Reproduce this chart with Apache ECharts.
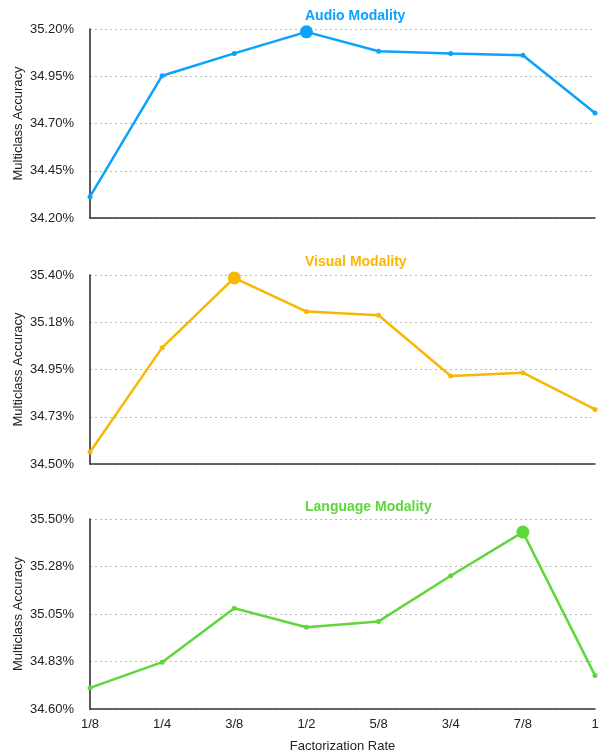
<!DOCTYPE html>
<html>
<head>
<meta charset="utf-8">
<script src="https://cdn.jsdelivr.net/npm/echarts@6/dist/echarts.min.js"></script>
<style>html,body{margin:0;padding:0;background:#fff}#c{width:599px;height:755px}</style>
</head>
<body>
<div id="c"></div>
<script>
const categories = ['1/8', '1/4', '3/8', '1/2', '5/8', '3/4', '7/8', '1'];
const audioValues = [34.313, 34.953, 35.071, 35.185, 35.082, 35.071, 35.061, 34.756];
const visualValues = [34.557, 35.054, 35.386, 35.226, 35.208, 34.919, 34.935, 34.760];
const languageValues = [34.700, 34.822, 35.077, 34.987, 35.015, 35.231, 35.438, 34.759];
const audioAxis = [34.20, 35.20, 0.25];
const visualAxis = [34.50, 35.40, 0.225];
const languageAxis = [34.60, 35.50, 0.225];
const titles = ['Audio Modality', 'Visual Modality', 'Language Modality'];
const colors = ['#0aa2fb', '#f8b700', '#5fd63c'];

const panels = [
  {vals: audioValues, axis: audioAxis, top: 29, height: 189, titleTop: 4},
  {vals: visualValues, axis: visualAxis, top: 275, height: 189, titleTop: 250},
  {vals: languageValues, axis: languageAxis, top: 519, height: 190, titleTop: 495}
];
const font = 'Liberation Sans, Arial, Helvetica, sans-serif';
const fmt = (base) => (v) => (Math.round((base + v) * 100 + 1e-6) / 100).toFixed(2) + '%';

const option = {
  animation: false,
  title: [], grid: [], xAxis: [], yAxis: [], series: []
};
panels.forEach((p, i) => {
  const base = p.axis[0];
  const last = i === panels.length - 1;
  const peak = p.vals.indexOf(Math.max(...p.vals));
  option.title.push({
    text: titles[i], left: 300, top: p.titleTop,
    textStyle: {color: colors[i], fontSize: 14, fontWeight: 'bold', fontFamily: font}
  });
  option.grid.push({left: 90, right: 4, top: p.top, height: p.height, outerBoundsMode: 'none', containLabel: false});
  option.xAxis.push({
    type: 'category', gridIndex: i, data: categories, boundaryGap: false,
    axisLine: {show: true, lineStyle: {color: '#333', width: 1.5}},
    axisTick: {show: false},
    axisLabel: {show: last, color: '#222', fontSize: 13, fontFamily: font, margin: 9},
    name: last ? 'Factorization Rate' : '', nameLocation: 'middle', nameGap: 31,
    nameMoveOverlap: false,
    nameTextStyle: {color: '#222', fontSize: 13, fontFamily: font},
    splitLine: {show: false}
  });
  option.yAxis.push({
    type: 'value', gridIndex: i, min: 0, max: +(p.axis[1] - base).toFixed(4), interval: p.axis[2],
    axisLine: {show: true, lineStyle: {color: '#222', width: 1.5}},
    axisTick: {show: false},
    axisLabel: {color: '#222', fontSize: 13, fontFamily: font, margin: 16, formatter: fmt(base)},
    splitLine: {show: true, lineStyle: {color: '#bbb', type: [2, 3], width: 1}},
    name: 'Multiclass Accuracy', nameLocation: 'middle', nameRotate: 90, nameGap: 65,
    nameMoveOverlap: false,
    nameTextStyle: {color: '#222', fontSize: 13, fontFamily: font}
  });
  option.series.push({
    type: 'line', xAxisIndex: i, yAxisIndex: i,
    data: p.vals.map(v => v - base),
    symbol: 'circle',
    symbolSize: (val, params) => params.dataIndex === peak ? 13 : 5,
    showAllSymbol: true,
    itemStyle: {color: colors[i]},
    lineStyle: {color: colors[i], width: 2.5},
    z: 3
  });
});
const chart = echarts.init(document.getElementById('c'), null, {renderer: 'canvas'});
chart.setOption(option);
</script>
</body>
</html>
